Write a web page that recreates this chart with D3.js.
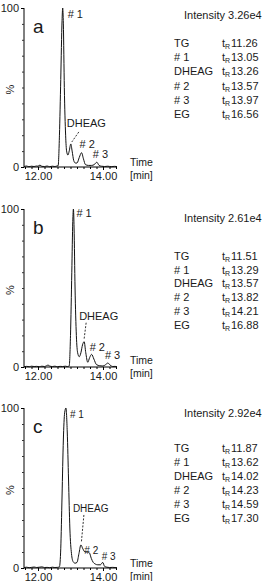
<!DOCTYPE html>
<html>
<head>
<meta charset="utf-8">
<script src="https://cdn.jsdelivr.net/npm/d3@7"></script>
<style>
  body { margin: 0; background: #fff; }
  text { font-family: "Liberation Sans", Arial, sans-serif; fill: #1a1a1a; }
</style>
</head>
<body>
<div id="chart"></div>
<script>
// ---- data ----
const panelNames = ["a", "b", "c"]
const intensities = ["3.26e4", "2.61e4", "2.92e4"]
const compounds = ["TG", "# 1", "DHEAG", "# 2", "# 3", "EG"]
const rtA = ["11.26", "13.05", "13.26", "13.57", "13.97", "16.56"]
const rtB = ["11.51", "13.29", "13.57", "13.82", "14.21", "16.88"]
const rtC = ["11.87", "13.62", "14.02", "14.23", "14.59", "17.30"]
const xTicks = [12, 14]
const yTicks = [0, 100]

const timeA = [11.57,11.65,11.72,11.8,11.88,11.95,12.0,12.06,12.12,12.2,12.28,12.36,12.44,12.52,12.58,12.62,
  12.66,12.7,12.74,12.76,12.78,12.81,12.85,12.88,12.92,12.96,13.01,13.05,13.1,13.15,13.2,13.27,13.34,13.4,13.46,13.55,
  13.65,13.73,13.81,13.88,13.95,14.05,14.15,14.25,14.35,14.43]
const pctA = [0.3,0.6,0.2,0.5,0.3,0.6,0.5,1.2,0.4,0.3,0.6,0.2,0.5,0.3,0.6,0.8,
  20,55,92,100,90,50,20,10,7.5,10,14.5,10,4,2.5,2.5,6,9,5,1.5,1,
  1,1.5,3,1,0.5,0.3,0.5,0.2,0.4,0.3]

const timeB = [11.57,11.65,11.73,11.8,11.88,11.96,12.04,12.12,12.2,12.26,12.31,12.36,12.44,12.52,12.6,12.68,12.76,12.84,12.9,
  12.96,13.0,13.04,13.07,13.09,13.11,13.14,13.18,13.22,13.27,13.32,13.37,13.42,13.47,13.53,13.59,13.65,13.72,13.8,13.9,
  14.0,14.08,14.15,14.22,14.3,14.37,14.43]
const pctB = [0.2,0.4,0.2,0.5,0.3,0.4,0.2,0.5,0.3,0.8,1.2,0.6,0.3,0.5,0.2,0.4,0.3,0.5,0.3,
  0.6,20,60,92,100,88,50,20,9,6.5,9,14,16,9,3,6,8,5,1.5,0.8,
  0.6,1.5,2.5,1.2,0.3,0.4,0.2]

const timeC = [11.57,11.65,11.73,11.8,11.88,11.96,12.04,12.12,12.2,12.28,12.36,12.44,12.52,12.6,
  12.66,12.7,12.74,12.78,12.82,12.86,12.9,12.94,12.98,13.03,13.08,13.14,13.2,13.26,13.32,13.38,13.45,13.52,13.58,13.64,
  13.7,13.76,13.84,13.92,13.99,14.05,14.12,14.2,14.3,14.43]
const pctC = [0.3,0.5,0.2,0.4,0.6,0.3,0.5,0.7,0.3,0.4,0.2,0.5,0.3,0.4,
  0.8,12,45,80,97,100,85,55,25,9,4,3,3.5,9,14.4,12,10,10,9.5,6,
  3.5,2.5,2,2,3.5,1,0.5,0.3,0.4,0.2]

// peak apexes used to hang the labels
const peakLabels = ["# 1", "DHEAG", "# 2", "# 3"]
const apexTimeA = [12.76, 13.01, 13.34, 13.81]
const apexPctA = [100, 14.5, 9, 3]
const apexTimeB = [13.09, 13.42, 13.65, 14.15]
const apexPctB = [100, 16, 8, 2.5]
const apexTimeC = [12.86, 13.32, 13.58, 13.99]
const apexPctC = [100, 14.4, 10, 3.5]

// ---- layout ----
var width = 274, height = 581
var xLeft = 24, xRight = 117
var panels = [
    { top: 8, bottom: 167, intY: 19, tableY: 47, rowH: 14.2, timeY: 166, lblSize: 11,
      offs: [[5, 10], [-4, -17], [-2, -5], [-4, -4]], lead: [[8, -12], [1, -2]] },
    { top: 209, bottom: 367, intY: 222, tableY: 260, rowH: 13.7, timeY: 364, lblSize: 11,
      offs: [[3, 8], [-5, -22], [-2, -3], [-3, -4]], lead: [[2, -19], [0, -3]] },
    { top: 408, bottom: 568, intY: 417, tableY: 452, rowH: 14, timeY: 567, lblSize: 10,
      offs: [[4, 10], [-8, -33], [-5, 2], [-1, -2]], lead: [[3, -30], [0.5, -3]] }
]
var traces = [[timeA, pctA], [timeB, pctB], [timeC, pctC]]
var apexes = [[apexTimeA, apexPctA], [apexTimeB, apexPctB], [apexTimeC, apexPctC]]
var rts = [rtA, rtB, rtC]

var x = d3.scaleLinear().domain([12, 14]).range([38, 103])

let svg = d3.select("#chart").append("svg")
    .attr("width", width)
    .attr("height", height)

panels.forEach((p, pi) => {
    let g = svg.append("g")
    let y = d3.scaleLinear().domain([0, 100]).range([p.bottom, p.top])
    let xAx = d3.scaleLinear().domain([x.invert(xLeft), x.invert(xRight)]).range([xLeft, xRight])

    //y axis
    g.append("g")
        .attr("transform", "translate(" + xLeft + ",0)")
        .call(d3.axisLeft(y).tickValues(d3.range(0, 101, 10)).tickSize(2).tickFormat(""))
        .call(a => a.select(".domain").attr("d", "M0," + p.bottom + "V" + p.top))
        .call(a => a.selectAll("line").attr("stroke", "#333"))
    g.append("g")
        .attr("transform", "translate(" + xLeft + ",0)")
        .call(d3.axisLeft(y).tickValues(yTicks).tickSize(3).tickPadding(2))
        .call(a => a.select(".domain").remove())
        .call(a => a.selectAll("text").attr("font-size", 11).attr("font-family", null))
    //x axis
    g.append("g")
        .attr("transform", "translate(0," + p.bottom + ")")
        .call(d3.axisBottom(xAx).tickValues(d3.range(11.6, 14.41, 0.2)).tickSize(2).tickFormat(""))
        .call(a => a.select(".domain").attr("d", "M" + xLeft + ",0H" + xRight))
    g.append("g")
        .attr("transform", "translate(0," + p.bottom + ")")
        .call(d3.axisBottom(xAx).tickValues(xTicks).tickSize(3).tickPadding(2).tickFormat(d3.format(".2f")))
        .call(a => a.select(".domain").remove())
        .call(a => a.selectAll("text").attr("font-size", 11).attr("font-family", null))

    g.append("text")
        .attr("transform", "translate(14," + ((p.top + p.bottom) / 2 + 2) + ") rotate(-90)")
        .attr("text-anchor", "middle")
        .attr("font-size", 11)
        .text("%")

    g.append("text")
        .attr("x", 33).attr("y", p.top + 25)
        .attr("font-size", 19)
        .text(panelNames[pi])

    //trace
    let tr = traces[pi]
    let pts = tr[0].map((t, i) => [t, tr[1][i]])
    g.append("path")
        .datum(pts)
        .attr("fill", "none")
        .attr("stroke", "#111")
        .attr("stroke-width", 1)
        .attr("d", d3.line().x(d => xAx(d[0])).y(d => y(d[1])).curve(d3.curveMonotoneX))

    //peak labels
    let ap = apexes[pi]
    peakLabels.forEach((lbl, li) => {
        let px = xAx(ap[0][li]), py = y(ap[1][li])
        g.append("text")
            .attr("x", px + p.offs[li][0])
            .attr("y", py + p.offs[li][1])
            .attr("font-size", p.lblSize)
            .text(lbl)
    })
    let dx = xAx(ap[0][1]), dy = y(ap[1][1])
    g.append("line")
        .attr("x1", dx + p.lead[0][0]).attr("y1", dy + p.lead[0][1])
        .attr("x2", dx + p.lead[1][0]).attr("y2", dy + p.lead[1][1])
        .attr("stroke", "#333")
        .attr("stroke-dasharray", "2,1.5")

    //time label
    g.append("text").attr("x", 130).attr("y", p.timeY).attr("font-size", 10.5).text("Time")
    g.append("text").attr("x", 130).attr("y", p.timeY + 13).attr("font-size", 10.5).text("[min]")

    //right hand table
    g.append("text")
        .attr("x", 184).attr("y", p.intY)
        .attr("font-size", 11)
        .text("Intensity " + intensities[pi])
    compounds.forEach((c, ci) => {
        let ry = p.tableY + ci * p.rowH
        g.append("text").attr("x", 174).attr("y", ry).attr("font-size", 11).text(c)
        let t = g.append("text").attr("x", 222).attr("y", ry).attr("font-size", 11)
        t.append("tspan").text("t")
        t.append("tspan").attr("font-size", 7).attr("dy", 2).text("R")
        g.append("text").attr("x", 231).attr("y", ry).attr("font-size", 11).text(rts[pi][ci])
    })
})
</script>
</body>
</html>
